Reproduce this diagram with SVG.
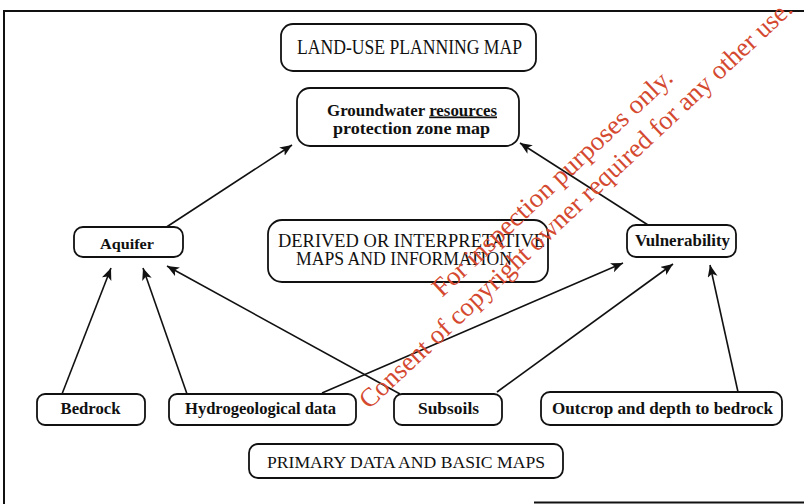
<svg xmlns="http://www.w3.org/2000/svg" width="804" height="504" viewBox="0 0 804 504">
<style>
.box{fill:#fff;stroke:#111;stroke-width:1.8}
.t{font-family:"Liberation Serif","Times New Roman",serif;fill:#111}
.b{font-weight:bold}
.frame{stroke:#111;stroke-width:2;fill:none}
.conn line{stroke:#111;stroke-width:1.6;marker-end:url(#ah)}
.wm{font-family:"Liberation Serif","Times New Roman",serif;fill:#d4492f;font-size:26.5px}
</style>
<defs>
<marker id="ah" markerUnits="userSpaceOnUse" markerWidth="14" markerHeight="12" refX="12" refY="5" orient="auto">
<path d="M0,0 L12,5 L0,10 L3,5 z" fill="#111"/>
</marker>
</defs>
<rect width="804" height="504" fill="#fff"/>
<g id="frame" class="frame">
<line x1="4" y1="11" x2="804" y2="11"/>
<line x1="4" y1="10" x2="4" y2="504"/>
<line x1="534" y1="502.5" x2="804" y2="502.5"/>
</g>
<g id="connectors" class="conn">
<line x1="165" y1="228" x2="292" y2="145"/>
<line x1="648" y1="225" x2="520" y2="143"/>
<line x1="62" y1="394" x2="111" y2="268"/>
<line x1="187" y1="394" x2="143" y2="268"/>
<line x1="400" y1="394" x2="167" y2="266"/>
<line x1="322" y1="393" x2="623" y2="263"/>
<line x1="497" y1="392" x2="673" y2="264"/>
<line x1="738" y1="392" x2="710" y2="265"/>
</g>
<g id="landuse">
<rect class="box" x="281" y="24" width="255" height="47" rx="12"/>
<text class="t" x="297" y="54" font-size="20" textLength="225" lengthAdjust="spacingAndGlyphs">LAND-USE PLANNING MAP</text>
</g>
<g id="groundwater">
<rect class="box" x="297" y="88" width="222" height="58" rx="13"/>
<text class="t b" x="327" y="115.5" font-size="17" textLength="170" lengthAdjust="spacingAndGlyphs">Groundwater <tspan text-decoration="underline">resources</tspan></text>
<text class="t b" x="333" y="134" font-size="17" textLength="157" lengthAdjust="spacingAndGlyphs">protection zone map</text>
</g>
<g id="aquifer">
<rect class="box" x="74" y="227" width="109" height="30" rx="9"/>
<text class="t b" x="100" y="248.5" font-size="15" textLength="54" lengthAdjust="spacingAndGlyphs">Aquifer</text>
</g>
<g id="derived">
<rect class="box" x="268" y="220" width="280" height="62" rx="14"/>
<text class="t" x="278" y="247" font-size="19" textLength="267" lengthAdjust="spacingAndGlyphs">DERIVED OR INTERPRETATIVE</text>
<text class="t" x="296" y="265" font-size="19" textLength="216" lengthAdjust="spacingAndGlyphs">MAPS AND INFORMATION</text>
</g>
<g id="vulnerability">
<rect class="box" x="627" y="225" width="109" height="32" rx="9"/>
<text class="t b" x="635" y="245.5" font-size="16" textLength="95" lengthAdjust="spacingAndGlyphs">Vulnerability</text>
</g>
<g id="bedrock">
<rect class="box" x="37" y="394" width="108" height="31" rx="8"/>
<text class="t b" x="60.5" y="414" font-size="16.5" textLength="60" lengthAdjust="spacingAndGlyphs">Bedrock</text>
</g>
<g id="hydro">
<rect class="box" x="169" y="394" width="187" height="31" rx="8"/>
<text class="t b" x="185" y="414" font-size="16.5" textLength="151" lengthAdjust="spacingAndGlyphs">Hydrogeological data</text>
</g>
<g id="subsoils">
<rect class="box" x="394" y="394" width="108" height="31" rx="8"/>
<text class="t b" x="418" y="414" font-size="16.5" textLength="61" lengthAdjust="spacingAndGlyphs">Subsoils</text>
</g>
<g id="outcrop">
<rect class="box" x="541" y="392" width="241" height="33" rx="9"/>
<text class="t b" x="552" y="413.5" font-size="16.5" textLength="221" lengthAdjust="spacingAndGlyphs">Outcrop and depth to bedrock</text>
</g>
<g id="primary">
<rect class="box" x="249" y="444" width="314" height="34" rx="9"/>
<text class="t" x="267" y="468" font-size="16" textLength="278" lengthAdjust="spacingAndGlyphs">PRIMARY DATA AND BASIC MAPS</text>
</g>
<g id="watermark">
<text class="wm" transform="translate(442,298) rotate(-43.2)" textLength="319" lengthAdjust="spacingAndGlyphs">For inspection purposes only.</text>
<text class="wm" transform="translate(369,410) rotate(-43.2)" textLength="583" lengthAdjust="spacingAndGlyphs">Consent of copyright owner required for any other use.</text>
</g>
</svg>
